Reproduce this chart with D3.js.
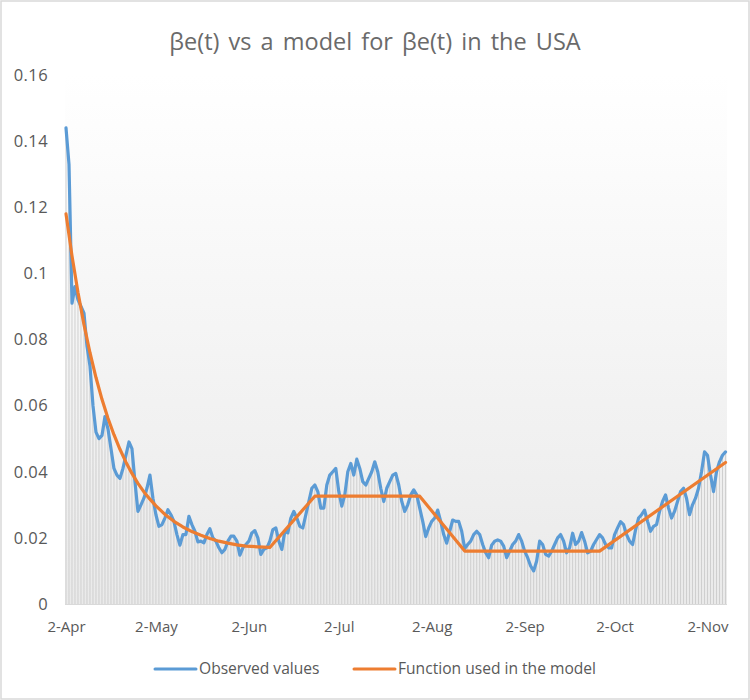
<!DOCTYPE html>
<html>
<head>
<meta charset="utf-8">
<script src="https://cdn.jsdelivr.net/npm/d3@7"></script>
<style>
  html, body { margin: 0; padding: 0; background: #fff; }
  svg { display: block; font-family: "Open Sans", Lato, sans-serif; }
</style>
</head>
<body>
<svg id="chart" width="750" height="700"></svg>
<script>
// ---- data ----
const startDate = "2020-04-02";
const observedValues = [
  0.144,0.133,0.091,0.096,0.092,0.090,0.088,0.078,0.072,0.060,
  0.052,0.050,0.051,0.0567,0.053,0.047,0.041,0.039,0.038,0.041,
  0.045,0.049,0.047,0.037,0.028,0.030,0.032,0.035,0.039,0.032,
  0.027,0.0235,0.024,0.026,0.0285,0.027,0.025,0.021,0.0178,0.021,
  0.021,0.0265,0.024,0.022,0.0188,0.019,0.0185,0.021,0.0228,0.020,
  0.019,0.017,0.0155,0.0165,0.019,0.0205,0.0205,0.019,0.0148,0.017,
  0.018,0.019,0.0215,0.0222,0.020,0.015,0.0165,0.017,0.019,0.0225,
  0.023,0.019,0.0165,0.022,0.0215,0.026,0.028,0.026,0.0235,0.023,
  0.027,0.031,0.035,0.036,0.034,0.029,0.029,0.036,0.039,0.040,
  0.041,0.034,0.0296,0.033,0.040,0.0425,0.039,0.0438,0.041,0.037,
  0.036,0.038,0.040,0.043,0.040,0.035,0.031,0.035,0.037,0.039,
  0.0395,0.036,0.031,0.028,0.030,0.033,0.0345,0.033,0.029,0.025,
  0.0204,0.023,0.025,0.026,0.0284,0.025,0.021,0.0184,0.022,0.0254,
  0.025,0.025,0.022,0.0168,0.018,0.019,0.021,0.022,0.021,0.018,
  0.0155,0.014,0.0178,0.019,0.0194,0.019,0.0175,0.014,0.016,0.018,
  0.019,0.021,0.019,0.016,0.014,0.0115,0.010,0.013,0.019,0.018,
  0.015,0.0145,0.016,0.018,0.020,0.021,0.019,0.0155,0.017,0.0214,
  0.018,0.019,0.0216,0.019,0.0155,0.016,0.018,0.0195,0.021,0.020,
  0.018,0.017,0.017,0.021,0.023,0.0249,0.024,0.021,0.019,0.018,
  0.0224,0.026,0.027,0.0284,0.025,0.022,0.0235,0.024,0.028,0.031,
  0.033,0.029,0.026,0.028,0.031,0.034,0.035,0.032,0.027,0.030,
  0.032,0.035,0.040,0.046,0.045,0.039,0.034,0.040,0.043,0.045,
  0.046
];
// model function: day offsets from startDate and values
const modelDays = [0,2,4,6,8,10,12,14,16,18,20,22,24,26,28,30,33,36,39,42,45,48,51,54,57,60,64,68,83,118,133,178,220];
const modelValues = [0.118,0.1053,0.0942,0.0845,0.0760,0.0685,0.0619,0.0562,0.0512,0.0468,0.0429,0.0395,0.0365,0.0339,0.0317,0.0297,0.0271,0.0250,0.0233,0.0219,0.0208,0.0198,0.0190,0.0184,0.0179,0.0175,0.0173,0.0171,0.0326,0.0326,0.0160,0.0160,0.0428];
const tickDates = ["2020-04-02","2020-05-02","2020-06-02","2020-07-02","2020-08-02","2020-09-02","2020-10-02","2020-11-02"];
const tickLabels = ["2-Apr","2-May","2-Jun","2-Jul","2-Aug","2-Sep","2-Oct","2-Nov"];
const yTicks = [0,0.02,0.04,0.06,0.08,0.1,0.12,0.14,0.16];
const seriesNames = ["Observed values","Function used in the model"];
const seriesColors = ["#5b9bd5","#ed7d31"];
const titleText = "βe(t) vs a model for βe(t) in the USA";

// ---- build ----
const parse = d3.utcParse("%Y-%m-%d");
const t0 = parse(startDate);
const observed = observedValues.map((v,i)=>({date:d3.utcDay.offset(t0,i), value:v}));
const model = modelDays.map((d,i)=>({date:d3.utcDay.offset(t0,d), value:modelValues[i]}));

const svg = d3.select("#chart");
const W = 750, H = 700;
const plot = {left:65, right:727, top:75, bottom:604};

const x = d3.scaleUtc()
  .domain([t0, observed[observed.length-1].date])
  .range([66, 725.5]);
const y = d3.scaleLinear().domain([0,0.16]).range([plot.bottom, plot.top]);

// outer border
svg.append("rect").attr("x",1).attr("y",1).attr("width",W-2).attr("height",H-2)
  .attr("fill","#fff").attr("stroke","#d9d9d9").attr("stroke-width",1.5);

// gradient plot background
const defs = svg.append("defs");
const grad = defs.append("linearGradient").attr("id","bg").attr("x1",0).attr("y1",0).attr("x2",0).attr("y2",1);
grad.append("stop").attr("offset","0%").attr("stop-color","#ffffff");
grad.append("stop").attr("offset","100%").attr("stop-color","#eaeaea");
svg.append("rect").attr("x",plot.left).attr("y",plot.top)
  .attr("width",plot.right-plot.left).attr("height",plot.bottom-plot.top)
  .attr("fill","url(#bg)");

// title
svg.append("text").attr("x",375).attr("y",50).attr("text-anchor","middle")
  .attr("font-size",23.5).attr("fill","#6a6a6a").attr("word-spacing",3).text(titleText);

// drop lines
svg.append("g").selectAll("line").data(observed).join("line")
  .attr("x1",d=>x(d.date)).attr("x2",d=>x(d.date))
  .attr("y1",d=>y(d.value)).attr("y2",y(0))
  .attr("stroke","#cfcfcf").attr("stroke-width",1);

// baseline axis
svg.append("line").attr("x1",plot.left).attr("x2",plot.right)
  .attr("y1",y(0)+0.5).attr("y2",y(0)+0.5).attr("stroke","#d9d9d9").attr("stroke-width",1);

// y axis
const yAxis = d3.axisLeft(y).tickValues(yTicks).tickSize(0).tickPadding(0)
  .tickFormat(d=>d3.format("")(+d.toFixed(2)));
const gy = svg.append("g").attr("transform","translate(48,0)").call(yAxis);
gy.select(".domain").remove();
gy.selectAll("text").attr("font-size",16.5).attr("letter-spacing",0.4).attr("fill","#595959").attr("font-family","'Open Sans', sans-serif");

// x axis
const xAxis = d3.axisBottom(x).tickValues(tickDates.map(parse)).tickSize(0).tickPadding(0)
  .tickFormat((d,i)=>tickLabels[i]);
const gx = svg.append("g").attr("transform","translate(0,621)").call(xAxis);
gx.select(".domain").remove();
gx.selectAll("text").attr("font-size",15).attr("fill","#595959").attr("font-family","'Open Sans', sans-serif");

// lines
const line = d3.line().x(d=>x(d.date)).y(d=>y(d.value));
svg.append("path").datum(observed).attr("d",line).attr("fill","none")
  .attr("stroke",seriesColors[0]).attr("stroke-width",3.2).attr("stroke-linejoin","round").attr("stroke-linecap","round");
svg.append("path").datum(model).attr("d",line).attr("fill","none")
  .attr("stroke",seriesColors[1]).attr("stroke-width",3.2).attr("stroke-linejoin","round").attr("stroke-linecap","round");

// legend
const legendX = [155, 354];
const lg = svg.append("g");
seriesNames.forEach((name,i)=>{
  lg.append("line").attr("x1",legendX[i]).attr("x2",legendX[i]+41)
    .attr("y1",669).attr("y2",669).attr("stroke",seriesColors[i]).attr("stroke-width",3).attr("stroke-linecap","round");
  lg.append("text").attr("x",legendX[i]+44).attr("y",674).attr("font-size",15.6)
    .attr("fill","#595959").text(name);
});
</script>
</body>
</html>
